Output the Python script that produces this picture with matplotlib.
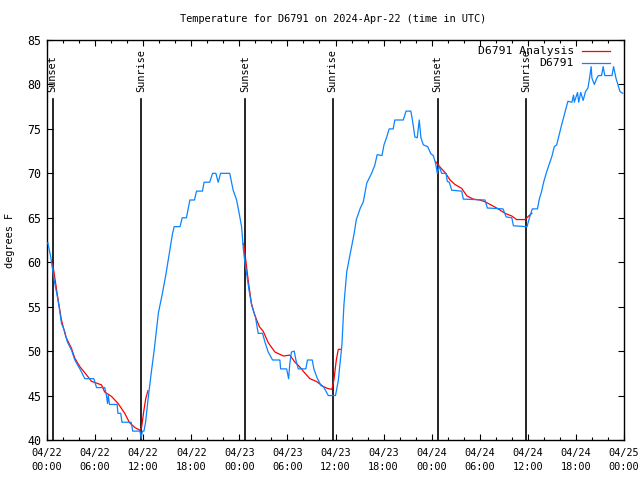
import matplotlib
matplotlib.use("Agg")
import matplotlib.pyplot as plt
from matplotlib.ticker import MultipleLocator

# hours since 2024-04-22 00:00 UTC
d6791_hours = [0.1, 0.47, 0.64, 0.97, 1.26, 1.51, 1.81, 2.22, 2.51, 3.06, 3.47, 4.1, 4.72, 5.84,
               6.18, 7.2, 7.42, 7.55, 7.65, 7.8, 8.75, 8.85, 9.2, 9.35, 10.5, 10.7, 11.6, 11.75,
               11.9, 12.1, 12.3, 12.6, 13.0, 13.4, 13.9, 14.4, 14.83, 15.33, 15.66, 15.87, 16.6,
               16.87, 17.4, 17.83, 18.4, 18.66, 19.4, 19.6, 20.3, 20.66, 21.07, 21.36, 21.66, 22.8,
               23.23, 23.66, 23.98, 24.28, 24.5, 24.7, 24.9, 25.2, 25.55, 26.0, 26.35, 26.9, 27.2,
               27.6, 28.15, 29.06, 29.15, 29.9, 30.15, 30.3, 30.5, 30.85, 31.06, 31.35, 32.3, 32.5,
               33.1, 33.3, 33.7, 34.2, 34.5, 35.1, 36.0, 36.35, 36.8, 37.05, 37.4, 37.8, 38.3, 38.6,
               39.1, 39.47, 39.9, 40.5, 40.9, 41.2, 41.8, 42.05, 42.4, 42.7, 43.2, 43.4, 44.46, 44.8,
               45.4, 45.6, 45.9, 46.2, 46.45, 46.66, 46.96, 47.5, 47.9, 48.2, 48.5, 48.7, 48.95,
               49.25, 49.8, 49.95, 50.2, 50.5, 51.75, 51.95, 54.66, 54.95, 56.9, 57.3, 58.0, 58.2,
               59.9, 60.2, 60.56, 61.2, 61.43, 61.7, 62.0, 62.36, 62.7, 63.0, 63.3, 63.6, 63.9, 64.2,
               64.6, 65.0, 65.5, 65.7, 65.8, 66.2, 66.35, 66.6, 66.9, 67.2, 67.5, 67.7, 67.9, 68.0,
               68.3, 68.6, 68.8, 69.2, 69.4, 69.6, 70.5, 70.7, 71.0, 71.2, 71.5, 71.85]
d6791_temp = [62.2, 60.6, 59.5, 57.6, 56.3, 55.0, 53.1, 52.2, 51.1, 50.1, 49.0, 48.0, 46.9, 46.9,
              45.9, 45.9, 45.0, 44.1, 45.0, 44.0, 44.0, 43.0, 43.0, 42.0, 42.0, 41.0, 41.0, 40.2,
              41.0, 41.0, 42.0, 44.5, 47.5, 50.3, 54.3, 56.5, 58.6, 61.4, 63.2, 64.0, 64.0,
              65.0, 65.0, 67.0, 67.0, 68.0, 68.0, 69.0, 69.0, 70.0, 70.0, 69.0, 70.0, 70.0,
              68.1, 67.0, 65.5, 64.0, 61.5, 59.9, 58.8, 56.9, 55.1, 53.9, 52.0, 52.0, 51.0,
              49.9, 49.0, 49.0, 48.0, 48.0, 46.9, 48.6, 49.9, 50.0, 49.0, 48.0, 48.0, 49.0,
              49.0, 48.0, 47.0, 46.1, 46.0, 45.0, 45.0, 46.7, 50.7, 55.2, 58.9, 60.8, 63.1, 64.8,
              66.1, 66.8, 68.9, 70.0, 70.9, 72.1, 72.0, 73.2, 74.1, 75.0, 75.0, 76.0, 76.0, 77.0,
              77.0, 76.0, 74.1, 74.0, 76.0, 74.0, 73.2, 73.0, 72.2, 72.0, 71.1, 70.0, 70.8,
              70.0, 70.0, 69.1, 69.0, 68.1, 68.0, 67.1, 67.0, 66.1, 66.0, 65.1, 65.0, 64.1,
              64.0, 65.0, 66.0, 66.0, 67.1, 67.9, 69.1, 70.2, 71.1, 71.9, 73.0, 73.2, 74.3, 75.4,
              76.75, 78.1, 78.0, 78.8, 78.0, 79.1, 78.0, 79.1, 78.2, 79.2, 79.6, 80.7, 82.0, 80.7,
              80.0, 80.7, 81.0, 81.0, 82.0, 81.0, 81.0, 82.0, 80.7, 80.1, 79.2, 79.0]

# overnight analysis segments
analysis_hours_1 = [0.64, 0.8, 1.39, 1.8, 2.35, 3.06, 3.47, 4.1, 4.95, 5.55, 6.8, 7.2, 8.05, 8.88,
                    9.7, 10.3, 10.96, 11.6, 11.8, 12.1, 12.33, 12.6]
analysis_temp_1 = [59.9, 59.3, 55.75, 53.5, 51.6, 50.3, 49.2, 48.25, 47.3, 46.6, 46.2, 45.4, 44.9,
                   44.1, 43.0, 41.95, 41.4, 41.1, 41.4, 43.4, 44.7, 45.55]
analysis_hours_2 = [24.48, 24.57, 24.8, 25.1, 25.5, 25.9, 26.5, 27.0, 27.6, 28.44, 29.5, 30.3, 30.9,
                    31.56, 32.2, 32.8, 33.6, 34.5, 35.0, 35.55, 35.8, 36.1, 36.35, 36.6]
analysis_temp_2 = [62.1, 61.9, 60.25, 58.0, 55.4, 54.1, 52.75, 52.2, 50.95, 49.9, 49.45, 49.55, 48.8,
                   48.2, 47.5, 46.9, 46.6, 46.0, 45.8, 45.7, 46.75, 49.0, 50.2, 50.2]
analysis_hours_3 = [48.5, 49.0, 49.66, 50.3, 50.9, 51.75, 52.4, 53.2, 54.0, 54.66, 55.5, 56.3, 57.15,
                    58.0, 58.6, 59.65, 60.1, 60.5]
analysis_temp_3 = [71.3, 70.75, 70.1, 69.25, 68.75, 68.3, 67.45, 67.1, 67.0, 66.8, 66.4, 66.0, 65.5,
                   65.2, 64.8, 64.8, 65.2, 65.5]

sun_hours = [0.7, 11.7, 24.7, 35.65, 48.75, 59.75]
sun_labels = ['Sunset', 'Sunrise', 'Sunset', 'Sunrise', 'Sunset', 'Sunrise']

tick_hours = [0, 6, 12, 18, 24, 30, 36, 42, 48, 54, 60, 66, 72]
tick_labels = ['04/22\n00:00', '04/22\n06:00', '04/22\n12:00', '04/22\n18:00',
               '04/23\n00:00', '04/23\n06:00', '04/23\n12:00', '04/23\n18:00',
               '04/24\n00:00', '04/24\n06:00', '04/24\n12:00', '04/24\n18:00',
               '04/25\n00:00']

FONT = 'DejaVu Sans Mono'
FS = 7.4
plt.rcParams['font.family'] = FONT

RED = '#ff0000'
BLUE = '#0a84ff'

fig = plt.figure(figsize=(6.4, 4.8), dpi=100)
ax = fig.add_axes([47 / 640, 40 / 480, 577 / 640, 400 / 480])

for h, lab in zip(sun_hours, sun_labels):
    ax.plot([h, h], [40, 78.4], color='black', lw=1.2, zorder=2)
    ax.text(h, 79.15, lab, rotation=90, ha='center', va='bottom', fontsize=FS, zorder=4)

for hs, ts in [(analysis_hours_1, analysis_temp_1),
               (analysis_hours_2, analysis_temp_2),
               (analysis_hours_3, analysis_temp_3)]:
    ax.plot(hs, ts, color=RED, lw=0.9, zorder=3)
ax.plot(d6791_hours, d6791_temp, color=BLUE, lw=0.9, zorder=3)

ax.set_xlim(0, 72)
ax.set_ylim(40, 85)
ax.set_xticks(tick_hours)
ax.set_xticklabels(tick_labels, fontsize=FS, linespacing=1.45)
ax.xaxis.set_minor_locator(MultipleLocator(2))
ax.set_yticks(range(40, 86, 5))
ax.tick_params(axis='y', labelsize=FS + 1)
ax.tick_params(which='both', direction='in', top=True, right=True, width=0.8)
ax.tick_params(which='major', length=4)
ax.tick_params(which='minor', length=2.2)
ax.tick_params(axis='x', pad=6)
ax.tick_params(axis='y', pad=4)
for s in ax.spines.values():
    s.set_linewidth(1.0)

# gnuplot-style key: right-aligned text, sample line on the right
key_rows = [('D6791 Analysis', RED, 0.973), ('D6791', BLUE, 0.942)]
for label, col, yk in key_rows:
    ax.text(0.913, yk, label, transform=ax.transAxes, ha='right', va='center',
            fontsize=FS + 0.8, zorder=5)
    ax.plot([0.927, 0.976], [yk, yk], transform=ax.transAxes, color=col, lw=0.9, zorder=5)

fig.text(333 / 640, 1 - 19 / 480, 'Temperature for D6791 on 2024-Apr-22 (time in UTC)',
         ha='center', va='center', fontsize=FS)
fig.text(10 / 640, 0.5, 'degrees F', rotation=90, ha='center', va='center', fontsize=FS)

fig.savefig('out.png', dpi=100)
